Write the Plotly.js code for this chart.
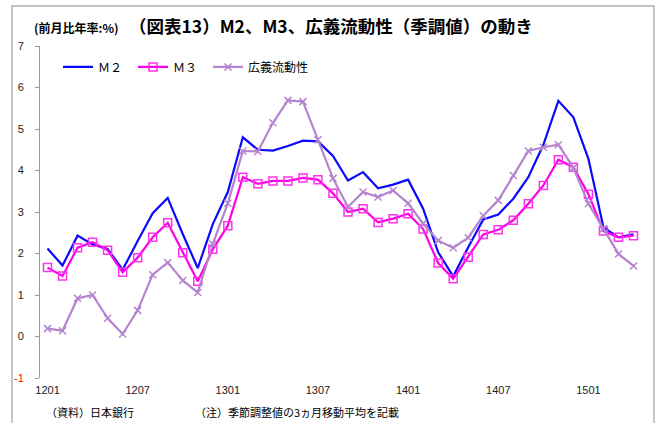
<!DOCTYPE html>
<html>
<head>
<meta charset="utf-8">
<script src="https://cdn.plot.ly/plotly-3.0.1.min.js"></script>
<style>html,body{margin:0;padding:0;background:#fff;}#chart{width:662px;height:423px;}</style>
</head>
<body>
<div id="chart"></div>
<script>
const months = ['1201','1202','1203','1204','1205','1206','1207','1208','1209','1210','1211','1212',
  '1301','1302','1303','1304','1305','1306','1307','1308','1309','1310','1311','1312',
  '1401','1402','1403','1404','1405','1406','1407','1408','1409','1410','1411','1412',
  '1501','1502','1503','1504'];
const tickLabels = ['1201','1207','1301','1307','1401','1407','1501'];
const m2 = [2.12,1.71,2.43,2.22,2.11,1.61,2.30,2.97,3.34,2.47,1.65,2.71,
  3.48,4.80,4.50,4.48,4.59,4.72,4.70,4.35,3.76,3.96,3.57,3.66,
  3.78,3.08,2.03,1.45,2.15,2.82,2.94,3.32,3.84,4.62,5.68,5.28,
  4.28,2.63,2.39,2.46];
const m3 = [1.66,1.46,2.14,2.27,2.08,1.55,1.90,2.39,2.74,2.02,1.33,2.10,
  2.67,3.84,3.68,3.75,3.75,3.82,3.78,3.45,3.00,3.08,2.75,2.84,
  2.96,2.59,1.77,1.39,1.91,2.46,2.57,2.80,3.20,3.64,4.26,4.08,
  3.43,2.54,2.39,2.43];
const broad = [0.19,0.14,0.92,1.00,0.44,0.06,0.63,1.49,1.78,1.35,1.06,2.23,
  3.21,4.47,4.46,5.15,5.69,5.66,4.74,3.81,3.12,3.48,3.36,3.52,
  3.21,2.72,2.31,2.14,2.38,2.91,3.28,3.88,4.47,4.56,4.62,4.07,
  3.20,2.60,1.99,1.70];
const yTicks = [-1,0,1,2,3,4,5,6,7];
const yTickText = ['<span style="color:#ff0000">-1</span>','0','1','2','3','4','5','6','7'];

const JP = '"Noto Sans CJK JP", "Noto Sans", sans-serif';
const NUM = '"Liberation Sans", Arial, sans-serif';

const traces = [
  {x: months, y: m2, name: 'Ｍ２', type: 'scatter', mode: 'lines',
   line: {color: '#0a0aff', width: 2.2}, legend: 'legend'},
  {x: months, y: m3, name: 'Ｍ３', type: 'scatter', mode: 'lines+markers',
   line: {color: '#ff00e6', width: 2.2}, legend: 'legend',
   marker: {symbol: 'square-open', size: 8, color: '#ff33ee', line: {width: 1.5}}},
  {x: months, y: broad, name: '広義流動性', type: 'scatter', mode: 'lines+markers',
   line: {color: '#b584cf', width: 2.2}, legend: 'legend2',
   marker: {symbol: 'x-thin', size: 7, color: '#b584cf', line: {width: 1.5, color: '#b584cf'}}}
];

const legendCommon = {orientation: 'h', y: 0.937, yanchor: 'middle', xanchor: 'left',
  font: {family: JP, size: 12, color: '#000'}, bgcolor: 'rgba(0,0,0,0)'};

const layout = {
  width: 662, height: 423,
  margin: {l: 40, r: 21, t: 46, b: 45},
  paper_bgcolor: '#fff', plot_bgcolor: '#fff',
  showlegend: true,
  legend: Object.assign({}, legendCommon, {x: 0.03, entrywidth: 30, entrywidthmode: 'pixels'}),
  legend2: Object.assign({}, legendCommon, {x: (208-40)/601}),
  xaxis: {type: 'category', range: [-0.5, 39.5], tickmode: 'array', tickvals: tickLabels, ticktext: tickLabels,
    showline: false, ticks: '', showgrid: false, zeroline: false, fixedrange: true,
    tickfont: {family: NUM, size: 11, color: '#222'}, ticklabelstandoff: 4},
  xaxis2: {overlaying: 'x', anchor: 'free', position: 0.125, type: 'linear', range: [-0.5, 39.5],
    tickmode: 'linear', tick0: -0.5, dtick: 1, ticks: 'outside', ticklen: 4, tickcolor: '#999',
    showline: true, linecolor: '#999', linewidth: 1, showticklabels: false, showgrid: false, zeroline: false},
  yaxis: {range: [-1, 7], tickmode: 'array', tickvals: yTicks, ticktext: yTickText,
    showline: true, linecolor: '#999', linewidth: 1, ticks: 'outside', ticklen: 4, tickcolor: '#999',
    showgrid: false, zeroline: false, tickfont: {family: NUM, size: 11, color: '#222'}, ticklabelstandoff: 9},
  shapes: [
    {type: 'rect', xref: 'paper', yref: 'paper', x0: -0.0466, x1: 1.0216, y0: -0.2, y1: 1.1205,
     line: {color: '#b0b0b0', width: 1.5}, fillcolor: 'rgba(0,0,0,0)', layer: 'below'}
  ],
  annotations: [
    {xref: 'paper', yref: 'paper', x: (127-40)/601, y: (378-25)/332, xanchor: 'left', yanchor: 'middle',
     text: '<b>（図表13）M2、M3、広義流動性（季調値）の動き</b>', showarrow: false,
     font: {family: JP, size: 17.5, color: '#000'}},
    {xref: 'paper', yref: 'paper', x: (32-40)/601, y: (378-28)/332, xanchor: 'left', yanchor: 'middle',
     text: '<b>(前月比年率:%)</b>', showarrow: false,
     font: {family: JP, size: 12, color: '#000'}},
    {xref: 'paper', yref: 'paper', x: (44-40)/601, y: (378-412)/332, xanchor: 'left', yanchor: 'middle',
     text: '（資料）日本銀行', showarrow: false, font: {family: JP, size: 11, color: '#000'}},
    {xref: 'paper', yref: 'paper', x: (193-40)/601, y: (378-412)/332, xanchor: 'left', yanchor: 'middle',
     text: '（注）季節調整値の3ヵ月移動平均を記載', showarrow: false, font: {family: JP, size: 11, color: '#000'}}
  ]
};

Plotly.newPlot('chart', traces, layout, {staticPlot: true, displayModeBar: false});
</script>
</body>
</html>
